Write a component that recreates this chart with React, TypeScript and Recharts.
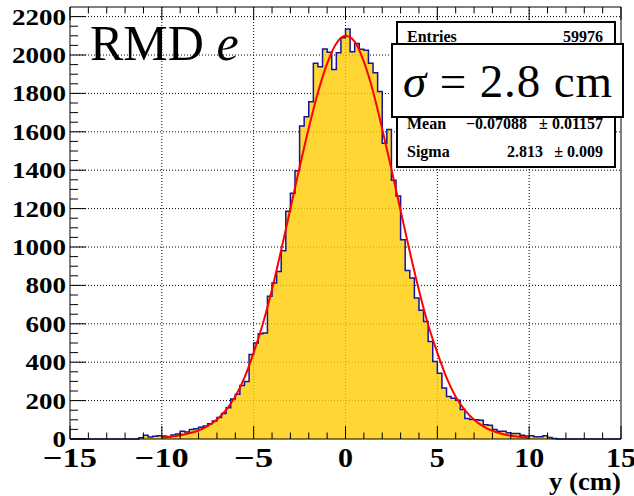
import { ComposedChart, Area, Line, XAxis, YAxis, CartesianGrid } from 'recharts';

// histogram: bin width 0.25 cm, first filled bin starts at -11.25
const binWidth = 0.25;
const firstBin = -11.25;
const binCounts = [
  7, 19, 10, 14, 17, 16, 12, 21, 26, 40, 37, 49, 54, 61, 68, 80, 94, 112, 133, 163,
  208, 233, 278, 300, 440, 500, 548, 552, 743, 812, 873, 981, 1186, 1280, 1397, 1630,
  1678, 1757, 1957, 1939, 2031, 2014, 1925, 2012, 2090, 2135, 2017, 2060, 2030, 2025,
  1957, 1908, 1810, 1540, 1612, 1348, 1265, 1038, 878, 838, 734, 670, 612, 508, 404,
  343, 265, 221, 212, 202, 154, 107, 102, 100, 98, 74, 72, 49, 40, 40, 32, 28, 28, 19,
  16, 17, 12, 12, 17, 8, 3,
];

// gaussian fit curve, read every 0.5 cm
const fitX = [
  -10, -9.5, -9, -8.5, -8, -7.5, -7, -6.5, -6, -5.5, -5, -4.5, -4, -3.5, -3, -2.5, -2,
  -1.5, -1, -0.5, 0, 0.5, 1, 1.5, 2, 2.5, 3, 3.5, 4, 4.5, 5, 5.5, 6, 6.5, 7, 7.5, 8,
  8.5, 9, 9.5, 10,
];
const fitY = [
  8, 13, 20, 30, 44, 68, 102, 152, 222, 320, 450, 600, 780, 985, 1200, 1415, 1620,
  1805, 1955, 2060, 2100, 2070, 1965, 1810, 1615, 1405, 1190, 975, 775, 595, 450, 320,
  220, 150, 100, 66, 42, 27, 17, 11, 7,
];

const xTicks = Array.from({ length: 31 }, (_, i) => i - 15);
const yTicks = Array.from({ length: 45 }, (_, i) => i * 50);
const xGrid = [-10, -5, 0, 5, 10];
const yGrid = [200, 400, 600, 800, 1000, 1200, 1400, 1600, 1800, 2000, 2200];

const histData: { x: number; v: number }[] = [];
for (let x = -15; x < 15; x += binWidth) {
  const i = Math.round((x - firstBin) / binWidth);
  histData.push({ x, v: i >= 0 && i < binCounts.length ? binCounts[i] : 0 });
}
histData.push({ x: 15, v: 0 });
const fitData = fitX.map((x, i) => ({ x, f: fitY[i] }));

const serif = '"Liberation Serif", "Times New Roman", serif';

const fmt = (v: number) => (v < 0 ? '\u2212' + Math.abs(v) : String(v));

const BottomTick = (props: any) => {
  const { x, y, payload } = props;
  const v = payload.value;
  const major = v % 5 === 0;
  const label = fmt(v);
  const len = String(Math.abs(v)).length * 15 + (v < 0 ? 24 : 0);
  return (
    <g>
      <line x1={x} y1={y} x2={x} y2={y - (major ? 13 : 6.5)} stroke="#000" />
      {major && (
        <text x={x} y={y + 28} textAnchor="middle" fontFamily={serif} fontWeight="bold"
          fontSize={28} textLength={len} lengthAdjust="spacingAndGlyphs">
          {label}
        </text>
      )}
    </g>
  );
};

const TopTick = (props: any) => {
  const { x, y, payload } = props;
  const major = payload.value % 5 === 0;
  return <line x1={x} y1={y} x2={x} y2={y + (major ? 13 : 6.5)} stroke="#000" />;
};

const LeftTick = (props: any) => {
  const { x, y, payload } = props;
  const v = payload.value;
  const major = v % 200 === 0;
  const label = String(v);
  return (
    <g>
      <line x1={x} y1={y} x2={x + (major ? 16 : 8)} y2={y} stroke="#000" />
      {major && (
        <text x={x - 4} y={y + 8} textAnchor="end" fontFamily={serif} fontWeight="bold"
          fontSize={23} textLength={label.length * 13.5} lengthAdjust="spacingAndGlyphs">
          {label}
        </text>
      )}
    </g>
  );
};

const RightTick = (props: any) => {
  const { x, y, payload } = props;
  const major = payload.value % 200 === 0;
  return <line x1={x} y1={y} x2={x - (major ? 16 : 8)} y2={y} stroke="#000" />;
};

export default function App() {
  return (
    <div style={{ position: 'absolute', left: 0, top: 0, width: 634, height: 496, background: '#fff' }}>
      <ComposedChart width={634} height={496} data={histData}
        margin={{ top: 0, right: 0, bottom: 0, left: 0 }}>
        <CartesianGrid xAxisId="b" yAxisId="l" stroke="#000" strokeDasharray="1 2"
          verticalValues={xGrid} horizontalValues={yGrid} />
        <XAxis xAxisId="b" dataKey="x" type="number" domain={[-15, 15]} ticks={xTicks}
          interval={0} height={57} tickSize={0} tickMargin={0} tickLine={false}
          axisLine={{ stroke: '#000' }} tick={BottomTick} />
        <XAxis xAxisId="t" orientation="top" dataKey="x" type="number" domain={[-15, 15]}
          ticks={xTicks} interval={0} height={7} tickSize={0} tickMargin={0} tickLine={false}
          axisLine={{ stroke: '#000' }} tick={TopTick} />
        <YAxis yAxisId="l" type="number" domain={[0, 2250]} ticks={yTicks} interval={0}
          width={70} tickSize={0} tickMargin={0} tickLine={false}
          axisLine={{ stroke: '#000' }} tick={LeftTick} />
        <YAxis yAxisId="r" orientation="right" type="number" domain={[0, 2250]} ticks={yTicks}
          interval={0} width={13} tickSize={0} tickMargin={0} tickLine={false}
          axisLine={{ stroke: '#000' }} tick={RightTick} />
        <Area xAxisId="b" yAxisId="l" data={histData} dataKey="v" type="stepAfter"
          stroke="#14149c" strokeWidth={1.5} fill="#ffcc00" fillOpacity={0.8}
          baseValue={0} isAnimationActive={false} />
        <Line xAxisId="b" yAxisId="l" data={fitData} dataKey="f" type="monotone"
          stroke="#ff0000" strokeWidth={2} dot={false} isAnimationActive={false} />
      </ComposedChart>
      <svg width={634} height={496} style={{ position: 'absolute', left: 0, top: 0, pointerEvents: 'none' }}>
        <text x={90} y={60} fontFamily={serif} fontSize={50}>
          RMD <tspan fontStyle="italic">e</tspan>
        </text>
        <text x={621} y={490} textAnchor="end" fontFamily={serif} fontWeight="bold" fontSize={25}
          textLength={72} lengthAdjust="spacingAndGlyphs">y (cm)</text>

        <rect x={397} y={22} width={218} height={145} fill="#fff" stroke="#000" strokeWidth={2} />
        <g fontFamily={serif} fontWeight="bold" fontSize={16}>
          <text x={407} y={42}>Entries</text>
          <text x={603} y={42} textAnchor="end">59976</text>
          <text x={407} y={129}>Mean</text>
          <text x={527} y={129} textAnchor="end">{'\u22120.07088'}</text>
          <text x={603} y={129} textAnchor="end">{'\u00b1 0.01157'}</text>
          <text x={407} y={157}>Sigma</text>
          <text x={543} y={157} textAnchor="end">2.813</text>
          <text x={603} y={157} textAnchor="end">{'\u00b1 0.009'}</text>
        </g>

        <rect x={392} y={44} width={231} height={73} fill="#fff" stroke="#000" strokeWidth={2} />
        <text x={403} y={97} fontFamily={serif} fontSize={47} textLength={209} lengthAdjust="spacing">
          <tspan fontStyle="italic">{'\u03c3'}</tspan> = 2.8 cm
        </text>
      </svg>
    </div>
  );
}
